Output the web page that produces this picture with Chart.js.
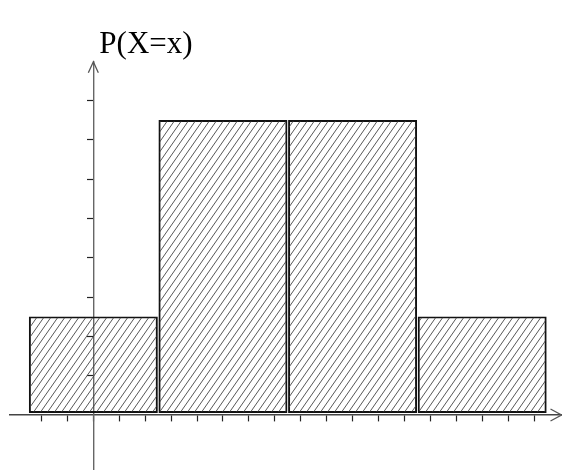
<!DOCTYPE html>
<html>
<head>
<meta charset="utf-8">
<script src="https://cdn.jsdelivr.net/npm/chart.js@4.4.1/dist/chart.umd.min.js"></script>
<style>
  body { margin: 0; background: #fff; }
  #boite { width: 562px; height: 470px; }
</style>
</head>
<body>
<div id="boite"><canvas id="graphique"></canvas></div>
<script>
// valeurs de X et probabilités
var valeursX = [0, 1, 2, 3];
var probabilites = [0.125, 0.375, 0.375, 0.125];

// graduations des axes (sans étiquettes lisibles)
var graduationsX = [-0.4, -0.2, 0, 0.2, 0.4, 0.6, 0.8, 1, 1.2, 1.4, 1.6, 1.8, 2, 2.2, 2.4, 2.6, 2.8, 3, 3.2, 3.4];
var graduationsY = [0.05, 0.1, 0.15, 0.2, 0.25, 0.3, 0.35, 0.4];

var titreAxeY = 'P(X=x)';

function hachures() {
    var c = document.createElement('canvas');
    c.width = 7;
    c.height = 10;
    var g = c.getContext('2d');
    g.strokeStyle = '#444';
    g.lineWidth = 0.9;
    g.beginPath();
    g.moveTo(-7, 10); g.lineTo(0, 0);
    g.moveTo(0, 10); g.lineTo(7, 0);
    g.moveTo(7, 10); g.lineTo(14, 0);
    g.stroke();
    return g.createPattern(c, 'repeat');
}

// fleches au bout des axes + nom de l'axe vertical
var fleches = {
    id: 'fleches',
    afterDraw: function (chart) {
        var ctx = chart.ctx;
        var zone = chart.chartArea;
        var x0 = chart.scales.x.getPixelForValue(0);
        var y0 = chart.scales.y.getPixelForValue(0);
        ctx.save();
        ctx.strokeStyle = '#555';
        ctx.lineWidth = 1.3;
        ctx.beginPath();
        ctx.moveTo(x0 - 5, zone.top + 11);
        ctx.lineTo(x0, zone.top);
        ctx.lineTo(x0 + 5, zone.top + 11);
        ctx.moveTo(zone.right - 11, y0 - 6);
        ctx.lineTo(zone.right, y0);
        ctx.lineTo(zone.right - 11, y0 + 6);
        ctx.stroke();
        ctx.fillStyle = '#000';
        ctx.font = '31px "Liberation Serif"';
        ctx.textBaseline = 'alphabetic';
        ctx.fillText(titreAxeY, x0 + 6, zone.top - 9);
        ctx.restore();
    }
};

var grafico = document.getElementById('graphique').getContext('2d');

var criarGrafico = new Chart(grafico, {
    type: 'bar',
    data: {
        datasets: [{
            data: valeursX.map(function (v, i) { return { x: v, y: probabilites[i] }; }),
            backgroundColor: hachures(),
            borderColor: '#111',
            borderWidth: 1.3,
            borderSkipped: false,
            base: 0.003,
            // largeur d'une barre = 1 unité de X (moins un petit jour)
            barThickness: function (c) {
                var s = c.chart.scales.x;
                return s.getPixelForValue(0.99) - s.getPixelForValue(0);
            }
        }]
    },
    options: {
        responsive: true,
        maintainAspectRatio: false,
        animation: false,
        layout: {
            padding: { left: 10, right: 0.5, top: 61.7, bottom: 0 }
        },
        plugins: {
            legend: { display: false },
            tooltip: { enabled: false }
        },
        scales: {
            x: {
                type: 'linear',
                offset: false,
                min: -0.643,
                max: 3.612,
                position: { y: 0 },
                afterBuildTicks: function (scale) {
                    scale.ticks = graduationsX.map(function (v) { return { value: v }; });
                },
                ticks: { display: false },
                grid: {
                    offset: false,
                    drawOnChartArea: false,
                    drawTicks: true,
                    tickLength: 6,
                    tickColor: '#222',
                    tickWidth: 1.2
                },
                border: { display: true, color: '#444', width: 1.4 }
            },
            y: {
                type: 'linear',
                min: -0.07,
                max: 0.4495,
                position: { x: 0 },
                afterBuildTicks: function (scale) {
                    scale.ticks = graduationsY.map(function (v) { return { value: v }; });
                },
                ticks: { display: false },
                grid: {
                    drawOnChartArea: false,
                    drawTicks: true,
                    tickLength: 6,
                    tickColor: '#222',
                    tickWidth: 1.2
                },
                border: { display: true, color: '#666', width: 1.4 }
            }
        }
    },
    plugins: [fleches]
});
</script>
</body>
</html>
